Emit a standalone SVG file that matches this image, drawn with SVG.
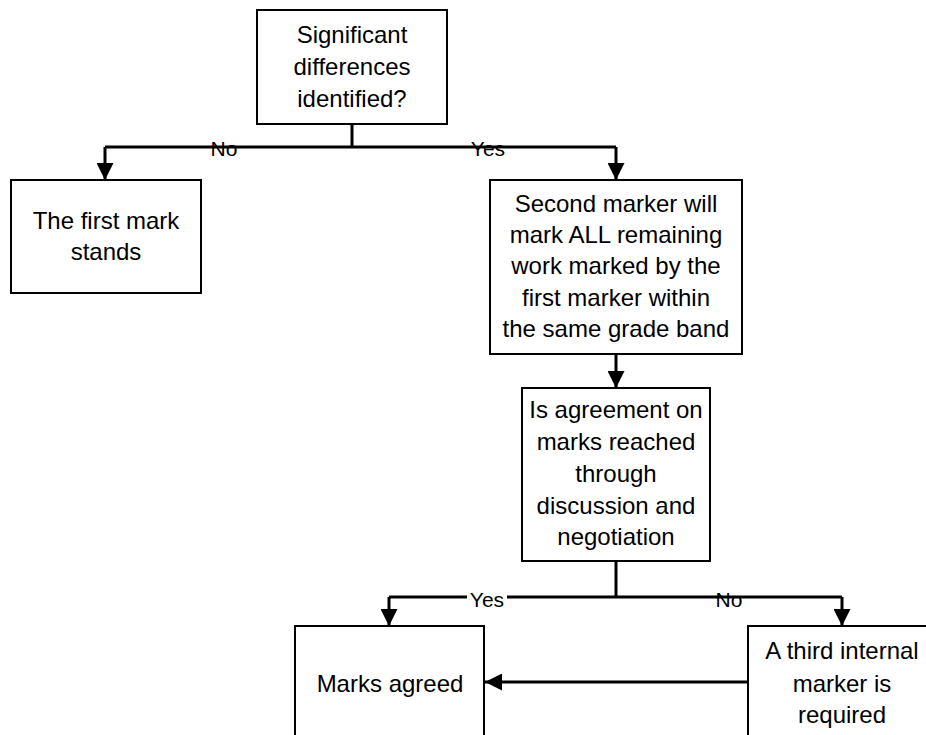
<svg xmlns="http://www.w3.org/2000/svg" width="926" height="735" viewBox="0 0 926 735">
<defs>
<marker id="arr" markerUnits="userSpaceOnUse" markerWidth="17" markerHeight="17" refX="17" refY="8.5" orient="auto">
<path d="M0,0 L17,8.5 L0,17 z" fill="#000"/>
</marker>
</defs>
<style>
.box{fill:#fff;stroke:#000;stroke-width:2}
.t{font-family:"Liberation Sans",Arial,sans-serif;font-size:24px;fill:#000;text-anchor:middle}
.lbl{font-family:"Liberation Sans",Arial,sans-serif;font-size:21px;fill:#000;text-anchor:middle}
.c{fill:none;stroke:#000;stroke-width:3}
</style>
<rect width="926" height="735" fill="#fff"/>
<g id="connectors">
<path class="c" d="M352,124 V147"/>
<path class="c" d="M105,147 H616"/>
<path class="c" d="M105,147 V180" marker-end="url(#arr)"/>
<path class="c" d="M616,147 V180" marker-end="url(#arr)"/>
<path class="c" d="M616,354 V388" marker-end="url(#arr)"/>
<path class="c" d="M616,561 V597"/>
<path class="c" d="M389,597 H842"/>
<path class="c" d="M389,597 V626" marker-end="url(#arr)"/>
<path class="c" d="M842,597 V626" marker-end="url(#arr)"/>
<path class="c" d="M748,682 H485" marker-end="url(#arr)"/>
<text class="lbl" x="224" y="156">No</text>
<text class="lbl" x="488" y="156">Yes</text>
<rect x="467" y="589" width="40" height="20" fill="#fff"/>
<text class="lbl" x="487" y="607">Yes</text>
<text class="lbl" x="729" y="607">No</text>
</g>
<g id="n1">
<rect class="box" x="257" y="10" width="190" height="114"/>
<text class="t" x="352" y="43">Significant</text>
<text class="t" x="352" y="75">differences</text>
<text class="t" x="352" y="107">identified?</text>
</g>
<g id="n2">
<rect class="box" x="11" y="180" width="190" height="113"/>
<text class="t" x="106" y="229">The first mark</text>
<text class="t" x="106" y="260">stands</text>
</g>
<g id="n3">
<rect class="box" x="490" y="180" width="252" height="174"/>
<text class="t" x="616" y="212">Second marker will</text>
<text class="t" x="616" y="243">mark ALL remaining</text>
<text class="t" x="616" y="274">work marked by the</text>
<text class="t" x="616" y="306">first marker within</text>
<text class="t" x="616" y="337">the same grade band</text>
</g>
<g id="n4">
<rect class="box" x="522" y="388" width="188" height="173"/>
<text class="t" x="616" y="418">Is agreement on</text>
<text class="t" x="616" y="450">marks reached</text>
<text class="t" x="616" y="482">through</text>
<text class="t" x="616" y="514">discussion and</text>
<text class="t" x="616" y="545">negotiation</text>
</g>
<g id="n5">
<rect class="box" x="295" y="626" width="189" height="140"/>
<text class="t" x="390" y="692">Marks agreed</text>
</g>
<g id="n6">
<rect class="box" x="748" y="626" width="200" height="140"/>
<text class="t" x="842" y="659">A third internal</text>
<text class="t" x="842" y="692">marker is</text>
<text class="t" x="842" y="723">required</text>
</g>
</svg>
